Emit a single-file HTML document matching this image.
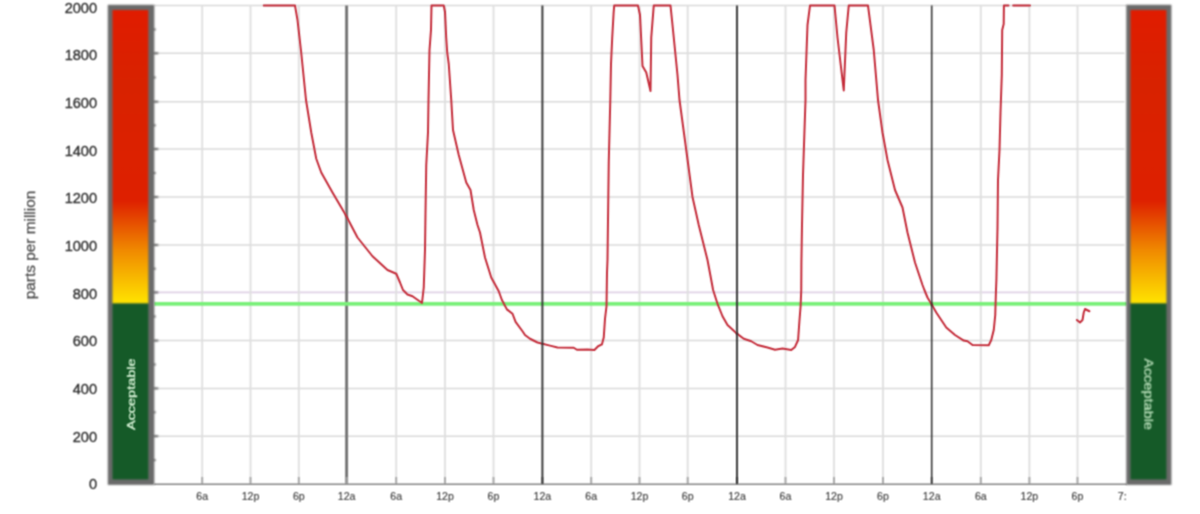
<!DOCTYPE html>
<html lang="en"><head><meta charset="utf-8"><title>CO2 parts per million</title>
<style>
html,body{margin:0;padding:0;background:#fff;}
body{width:1200px;height:514px;overflow:hidden;position:relative;}
svg{display:block;position:absolute;left:0;top:0;}
text{font-family:"Liberation Sans",Arial,Helvetica,sans-serif;}
</style></head><body>
<svg width="1200" height="514" viewBox="0 0 1200 514">
<defs>
<linearGradient id="heat" x1="0" y1="0" x2="0" y2="1">
<stop offset="0" stop-color="#e01c00"/>
<stop offset="0.25" stop-color="#d82200"/>
<stop offset="0.65" stop-color="#de2000"/>
<stop offset="0.82" stop-color="#f08a00"/>
<stop offset="1" stop-color="#ffe400"/>
</linearGradient>
<filter id="soft" x="0" y="0" width="1200" height="514" filterUnits="userSpaceOnUse" color-interpolation-filters="sRGB"><feConvolveMatrix order="5" kernelMatrix="1 4 6 4 1 4 16 24 16 4 6 24 36 24 6 4 16 24 16 4 1 4 6 4 1" divisor="256" edgeMode="duplicate" preserveAlpha="false"/></filter>
<filter id="fgrid" x="0" y="0" width="1200" height="514" filterUnits="userSpaceOnUse" color-interpolation-filters="sRGB"><feConvolveMatrix order="3" kernelMatrix="1 2 1 2 4 2 1 2 1" divisor="16" edgeMode="duplicate" preserveAlpha="false"/></filter>
<filter id="fred" x="0" y="0" width="1200" height="514" filterUnits="userSpaceOnUse" color-interpolation-filters="sRGB"><feConvolveMatrix order="3" kernelMatrix="1 3 1 3 9 3 1 3 1" divisor="25" edgeMode="duplicate" preserveAlpha="false"/></filter>
<filter id="ftext" x="0" y="0" width="1200" height="514" filterUnits="userSpaceOnUse" color-interpolation-filters="sRGB"><feConvolveMatrix order="3" kernelMatrix="1 2 1 2 4 2 1 2 1" divisor="16" edgeMode="duplicate" preserveAlpha="false"/></filter>
</defs>
<rect x="0" y="0" width="1200" height="514" fill="#ffffff"/>
<g filter="url(#fgrid)">
<g stroke="#dadada" stroke-width="1.5" fill="none">
<line x1="154" y1="436.20" x2="1124.5" y2="436.20"/>
<line x1="154" y1="388.40" x2="1124.5" y2="388.40"/>
<line x1="154" y1="340.60" x2="1124.5" y2="340.60"/>
<line x1="154" y1="245.00" x2="1124.5" y2="245.00"/>
<line x1="154" y1="197.00" x2="1124.5" y2="197.00"/>
<line x1="154" y1="149.00" x2="1124.5" y2="149.00"/>
<line x1="154" y1="101.70" x2="1124.5" y2="101.70"/>
<line x1="154" y1="53.30" x2="1124.5" y2="53.30"/>
<line x1="154" y1="5.60" x2="1127" y2="5.60"/>
</g>
<line x1="154" y1="292.40" x2="1124.5" y2="292.40" stroke="#e0d2e6" stroke-width="1.6"/>
<g stroke="#dedede" stroke-width="1.8" fill="none">
<line x1="202.20" y1="5.60" x2="202.20" y2="484.00"/>
<line x1="250.50" y1="5.60" x2="250.50" y2="484.00"/>
<line x1="298.80" y1="5.60" x2="298.80" y2="484.00"/>
<line x1="396.20" y1="5.60" x2="396.20" y2="484.00"/>
<line x1="445.00" y1="5.60" x2="445.00" y2="484.00"/>
<line x1="493.50" y1="5.60" x2="493.50" y2="484.00"/>
<line x1="591.20" y1="5.60" x2="591.20" y2="484.00"/>
<line x1="639.50" y1="5.60" x2="639.50" y2="484.00"/>
<line x1="687.70" y1="5.60" x2="687.70" y2="484.00"/>
<line x1="785.50" y1="5.60" x2="785.50" y2="484.00"/>
<line x1="834.00" y1="5.60" x2="834.00" y2="484.00"/>
<line x1="883.00" y1="5.60" x2="883.00" y2="484.00"/>
<line x1="980.80" y1="5.60" x2="980.80" y2="484.00"/>
<line x1="1029.40" y1="5.60" x2="1029.40" y2="484.00"/>
<line x1="1077.50" y1="5.60" x2="1077.50" y2="484.00"/>
</g>
<line x1="346.60" y1="5.60" x2="346.60" y2="484.00" stroke="#747474" stroke-width="2.9"/>
<line x1="154" y1="303.80" x2="1127" y2="303.80" stroke="#7af07a" stroke-width="3.8"/>
<line x1="154" y1="484.20" x2="1127" y2="484.20" stroke="#848484" stroke-width="1.6"/>
<g stroke="#a6a6a6" stroke-width="1.9">
<line x1="202.20" y1="477.00" x2="202.20" y2="484.00"/>
<line x1="250.50" y1="477.00" x2="250.50" y2="484.00"/>
<line x1="298.80" y1="477.00" x2="298.80" y2="484.00"/>
<line x1="346.60" y1="477.00" x2="346.60" y2="484.00"/>
<line x1="396.20" y1="477.00" x2="396.20" y2="484.00"/>
<line x1="445.00" y1="477.00" x2="445.00" y2="484.00"/>
<line x1="493.50" y1="477.00" x2="493.50" y2="484.00"/>
<line x1="542.40" y1="477.00" x2="542.40" y2="484.00"/>
<line x1="591.20" y1="477.00" x2="591.20" y2="484.00"/>
<line x1="639.50" y1="477.00" x2="639.50" y2="484.00"/>
<line x1="687.70" y1="477.00" x2="687.70" y2="484.00"/>
<line x1="737.00" y1="477.00" x2="737.00" y2="484.00"/>
<line x1="785.50" y1="477.00" x2="785.50" y2="484.00"/>
<line x1="834.00" y1="477.00" x2="834.00" y2="484.00"/>
<line x1="883.00" y1="477.00" x2="883.00" y2="484.00"/>
<line x1="931.70" y1="477.00" x2="931.70" y2="484.00"/>
<line x1="980.80" y1="477.00" x2="980.80" y2="484.00"/>
<line x1="1029.40" y1="477.00" x2="1029.40" y2="484.00"/>
<line x1="1077.50" y1="477.00" x2="1077.50" y2="484.00"/>
</g>
</g>
<g filter="url(#fred)" stroke="#c42c3a" stroke-width="2.0" fill="none" stroke-linejoin="round" stroke-linecap="round">
<polyline points="263.75,5.60 295.00,5.60 297.50,20.00 301.25,53.00 306.00,100.00 311.25,132.50 316.25,158.75 321.25,172.50 332.50,192.50 345.00,213.75 347.00,217.50 357.50,237.50 372.50,256.25 387.50,270.00 396.25,273.75 400.00,282.50 403.00,290.00 407.50,294.50 412.50,296.25 422.00,303.00 423.75,287.50 425.00,250.00 425.50,212.50 426.25,165.00 428.00,132.50 428.50,100.00 429.50,50.00 431.00,30.00 431.50,5.60 443.75,5.60 445.00,12.00 446.20,37.50 447.20,52.50 448.75,64.00 451.25,100.00 453.00,130.00 458.75,155.00 466.25,182.50 470.50,190.00 473.75,210.00 477.50,225.00 480.00,232.50 485.00,257.50 491.25,277.50 498.75,291.25 501.90,300.00 506.90,309.40 512.50,313.75 515.60,321.90 522.50,331.25 525.00,335.00 530.00,338.75 537.50,342.50 542.50,343.75 550.00,345.60 557.50,347.50 573.75,347.75 576.90,349.75 587.50,349.40 594.40,350.00 598.10,346.25 601.90,344.40 603.75,337.50 605.00,318.75 606.50,306.25 607.00,272.50 607.50,260.00 608.75,162.50 610.30,100.00 611.00,64.00 612.20,38.00 613.60,13.00 614.20,5.60 638.00,5.60 640.00,15.00 642.50,66.00 646.25,72.50 650.50,91.00 651.25,37.50 653.75,5.60 670.50,5.60 672.50,25.00 677.50,75.00 679.50,100.00 686.25,150.00 692.50,197.00 698.75,225.00 707.50,260.00 711.25,280.00 713.10,290.00 717.50,303.75 722.50,316.25 727.50,325.00 736.25,333.10 743.75,338.75 751.25,341.25 757.50,345.00 767.50,347.50 775.00,349.75 782.50,348.50 791.25,350.00 795.00,346.90 798.10,340.00 799.40,321.25 800.60,306.25 801.25,290.00 801.40,262.50 802.00,225.00 803.00,175.00 805.50,100.00 805.50,80.00 807.50,25.00 810.00,5.60 834.50,5.60 837.50,37.50 843.75,90.50 846.25,32.50 848.75,5.60 868.00,5.60 873.75,50.00 878.00,100.00 882.50,132.50 887.50,160.00 895.00,190.00 902.50,207.50 907.50,232.50 915.00,262.50 922.50,285.00 924.40,290.00 927.50,297.50 931.25,303.75 936.25,312.50 941.25,320.00 946.25,327.50 955.00,335.00 963.75,340.60 967.50,341.25 972.50,345.00 988.75,345.25 991.25,340.00 993.75,330.00 995.25,315.00 995.60,302.50 996.00,290.00 996.40,280.00 997.50,228.00 998.00,180.00 999.50,150.00 1000.50,112.50 1001.80,75.00 1002.20,30.00 1003.70,24.00 1003.90,5.60 1008.50,5.60"/>
<polyline points="1013.20,5.60 1030.00,5.60"/>
<polyline points="1076.90,320.00 1080.00,322.50 1082.50,320.00 1083.75,312.50 1085.00,309.00 1089.40,311.25"/>
</g>
<g filter="url(#fgrid)">
<line x1="542.40" y1="5.60" x2="542.40" y2="484.00" stroke="#303030" stroke-width="1.9"/>
<line x1="737.00" y1="5.60" x2="737.00" y2="484.00" stroke="#303030" stroke-width="1.9"/>
<line x1="931.70" y1="5.60" x2="931.70" y2="484.00" stroke="#2a2a2a" stroke-width="1.5"/>
</g>
<g filter="url(#soft)">
<rect x="107.8" y="4.8" width="46.5" height="480.1" fill="#6a6a6a"/>
<rect x="112.5" y="10" width="35.8" height="293.5" fill="url(#heat)"/>
<rect x="112.5" y="303.5" width="35.8" height="175.9" fill="#155a28"/>
<rect x="1126.3" y="4.8" width="45.1" height="480.1" fill="#6a6a6a"/>
<rect x="1130.5" y="10" width="35.9" height="293.5" fill="url(#heat)"/>
<rect x="1130.5" y="303.5" width="35.9" height="175.9" fill="#155a28"/>
<g stroke="#666666" stroke-width="1.8">
<line x1="153" y1="460.15" x2="155.8" y2="460.15"/>
<line x1="153" y1="436.20" x2="158.2" y2="436.20"/>
<line x1="153" y1="412.30" x2="155.8" y2="412.30"/>
<line x1="153" y1="388.40" x2="158.2" y2="388.40"/>
<line x1="153" y1="364.50" x2="155.8" y2="364.50"/>
<line x1="153" y1="340.60" x2="158.2" y2="340.60"/>
<line x1="153" y1="316.50" x2="155.8" y2="316.50"/>
<line x1="153" y1="292.40" x2="158.2" y2="292.40"/>
<line x1="153" y1="268.70" x2="155.8" y2="268.70"/>
<line x1="153" y1="245.00" x2="158.2" y2="245.00"/>
<line x1="153" y1="221.00" x2="155.8" y2="221.00"/>
<line x1="153" y1="197.00" x2="158.2" y2="197.00"/>
<line x1="153" y1="173.00" x2="155.8" y2="173.00"/>
<line x1="153" y1="149.00" x2="158.2" y2="149.00"/>
<line x1="153" y1="125.35" x2="155.8" y2="125.35"/>
<line x1="153" y1="101.70" x2="158.2" y2="101.70"/>
<line x1="153" y1="77.50" x2="155.8" y2="77.50"/>
<line x1="153" y1="53.30" x2="158.2" y2="53.30"/>
<line x1="153" y1="29.45" x2="155.8" y2="29.45"/>
</g>
</g>
<g filter="url(#ftext)">
<g font-size="14.6" fill="#303030" stroke="#303030" stroke-width="0.35" text-anchor="end">
<text x="97.1" y="489.30">0</text>
<text x="97.1" y="441.64">200</text>
<text x="97.1" y="393.98">400</text>
<text x="97.1" y="346.32">600</text>
<text x="97.1" y="298.66">800</text>
<text x="97.1" y="251.00">1000</text>
<text x="97.1" y="203.34">1200</text>
<text x="97.1" y="155.68">1400</text>
<text x="97.1" y="108.02">1600</text>
<text x="97.1" y="60.36">1800</text>
<text x="97.1" y="13.00">2000</text>
</g>
<g font-size="10.6" fill="#363636" stroke="#363636" stroke-width="0.12" text-anchor="middle">
<text x="202.20" y="500.10">6a</text>
<text x="250.50" y="500.10">12p</text>
<text x="298.80" y="500.10">6p</text>
<text x="346.60" y="500.10">12a</text>
<text x="396.20" y="500.10">6a</text>
<text x="445.00" y="500.10">12p</text>
<text x="493.50" y="500.10">6p</text>
<text x="542.40" y="500.10">12a</text>
<text x="591.20" y="500.10">6a</text>
<text x="639.50" y="500.10">12p</text>
<text x="687.70" y="500.10">6p</text>
<text x="737.00" y="500.10">12a</text>
<text x="785.50" y="500.10">6a</text>
<text x="834.00" y="500.10">12p</text>
<text x="883.00" y="500.10">6p</text>
<text x="931.70" y="500.10">12a</text>
<text x="980.80" y="500.10">6a</text>
<text x="1029.40" y="500.10">12p</text>
<text x="1077.50" y="500.10">6p</text>
<text x="1117.8" y="500.1" text-anchor="start">7:</text>
</g>
<text transform="translate(35,245) rotate(-90)" font-size="15.4" fill="#4c4c4c" stroke="#4c4c4c" stroke-width="0.25" text-anchor="middle">parts per million</text>
<text transform="translate(135.1,430) rotate(-90)" font-size="11.5" fill="#d4f0d4" stroke="#d4f0d4" stroke-width="0.3" textLength="71.5" lengthAdjust="spacingAndGlyphs">Acceptable</text>
<text transform="translate(1144.3,358.4) rotate(90)" font-size="13" fill="#c4e8c4" stroke="#c4e8c4" stroke-width="0.2" textLength="71.5" lengthAdjust="spacingAndGlyphs">Acceptable</text>
</g>
</svg>
</body></html>
